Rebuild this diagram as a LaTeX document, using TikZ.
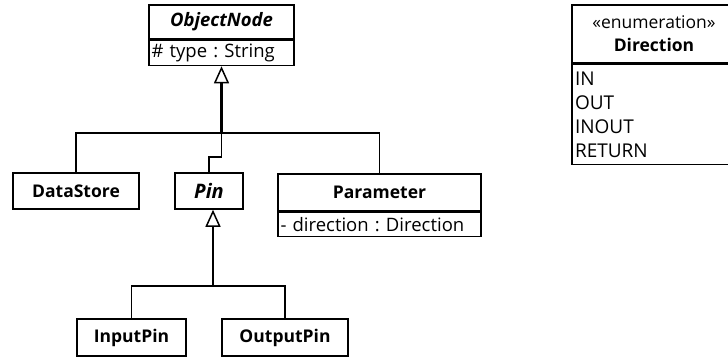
\documentclass[tikz,border=0pt]{standalone}
\usepackage{fontspec}
\setmainfont{Open Sans}
\usetikzlibrary{arrows.meta,calc}
\begin{document}
\frenchspacing
\begin{tikzpicture}[x=1bp,y=-1bp,
  every node/.style={font=\fontsize{18.5bp}{22bp}\selectfont},
  cls/.style={draw, line width=1.5bp, inner sep=0pt, align=center, font=\fontsize{17.5bp}{22bp}\selectfont\bfseries},
  abs/.style={font=\fontsize{18.5bp}{22bp}\selectfont\bfseries\itshape},
  attr/.style={draw, line width=1.5bp, inner ysep=0pt, inner xsep=2.5bp, align=left},
  conn/.style={line width=1.5bp},
  gen/.style={-{Triangle[open, line width=1.5bp, length=17bp, width=15bp]}}]
\useasboundingbox (0,0) rectangle (728,360);
\clip (0,0) rectangle (728,360);
% ObjectNode
\node[cls, abs, minimum width=145bp, minimum height=34bp] (on) at (221.5,22) {ObjectNode};
\node[attr, text width=140bp, minimum height=25bp, anchor=north] (ona) at (on.south) {\# type : String};
% DataStore, Pin, Parameter
\node[cls, minimum width=126bp, minimum height=36bp] (ds) at (76,191) {DataStore};
\node[cls, minimum width=68bp, minimum height=36bp, font=\fontsize{20bp}{22bp}\selectfont\bfseries\itshape] (pin) at (209,191) {Pin};
\node[cls, minimum width=203bp, minimum height=37bp] (par) at (379.5,192.5) {Parameter};
\node[attr, text width=198bp, minimum height=24bp, anchor=north] (para) at (par.south) {- direction : Direction};
% InputPin, OutputPin
\node[cls, minimum width=109bp, minimum height=37bp] (ip) at (131.5,337.5) {InputPin};
\node[cls, minimum width=126bp, minimum height=37bp] (op) at (285,337.5) {OutputPin};
% Direction enumeration
\node[cls, minimum width=164bp, minimum height=58bp, font=\fontsize{17.5bp}{23bp}\selectfont] (dir) at (654,34) {\rule{0pt}{0pt}\raisebox{-2bp}{«enumeration»}\\\raisebox{-2bp}{\textbf{Direction}}};
\node[attr, text width=158bp, minimum height=100bp, anchor=north, inner xsep=3bp, font=\fontsize{19bp}{24bp}\selectfont] (dira) at (dir.south) {IN\\OUT\\INOUT\\RETURN};
% connectors
\coordinate (j) at (ona.south |- 0,133);
\draw[conn] (ds.north) |- (j) -| (par.north);
\draw[conn] (j) -- ++(0,24) -| (pin.north);
\draw[gen, line width=3.2bp] (j) -- (ona.south);
\coordinate (pb) at ($(pin.south)+(4,0)$);
\coordinate (k) at ($(pb)+(0,76)$);
\draw[conn] (ip.north) |- (k) -| (op.north);
\draw[conn, gen] (k) -- (pb);
\end{tikzpicture}
\end{document}
